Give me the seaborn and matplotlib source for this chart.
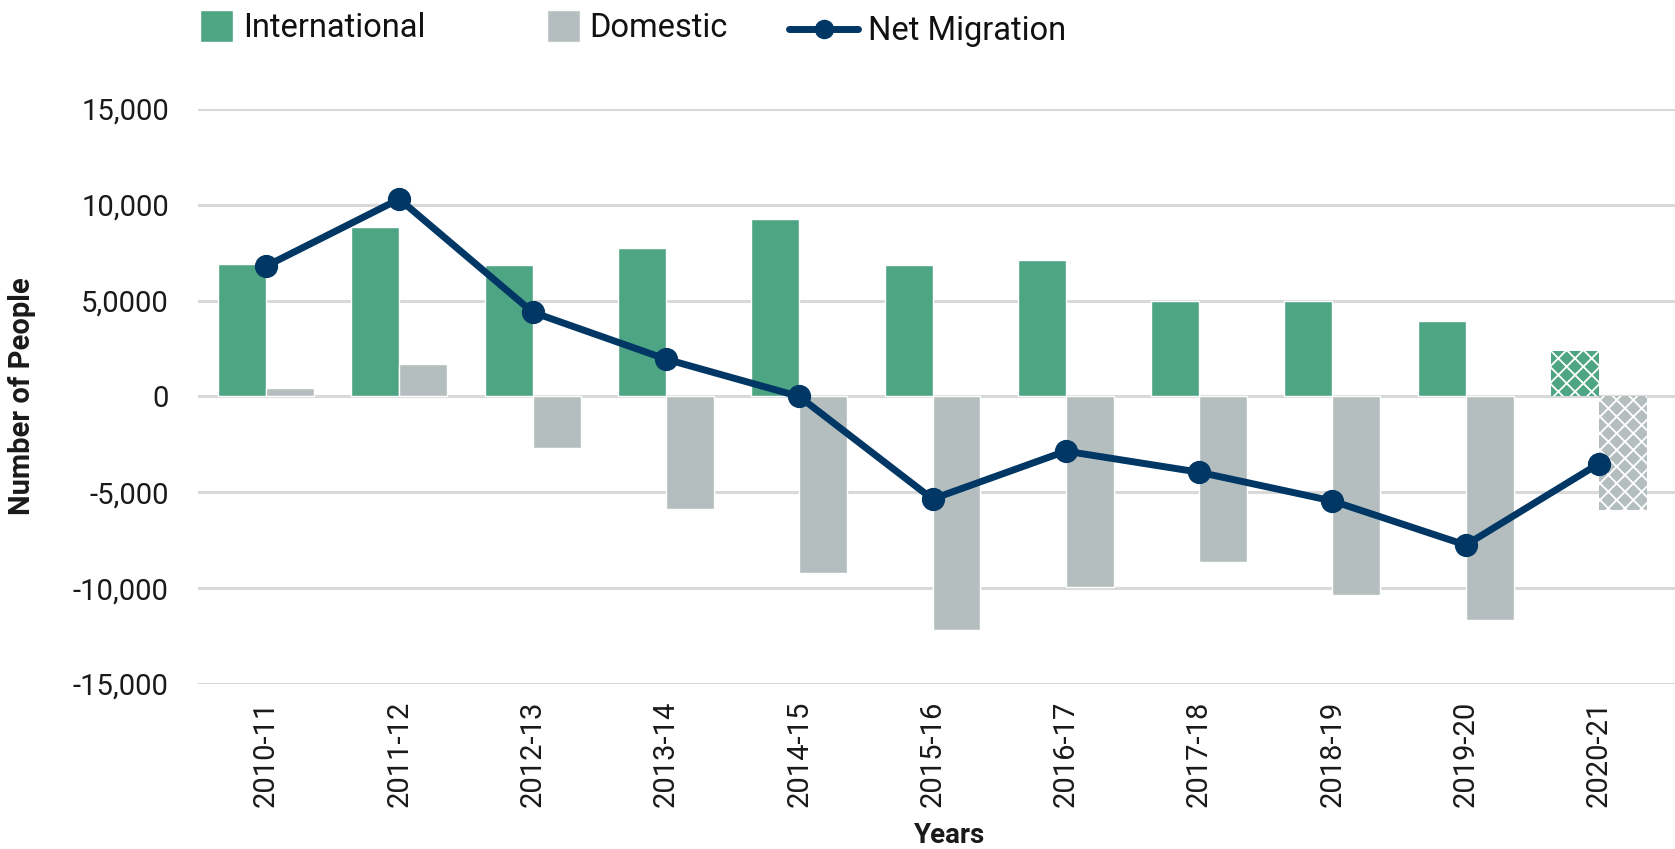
import pandas as pd
import matplotlib.pyplot as plt
import seaborn as sns
import numpy as np
from matplotlib.patches import Patch
from matplotlib.lines import Line2D

# values

years = ['2010-11', '2011-12', '2012-13', '2013-14', '2014-15', '2015-16',
         '2016-17', '2017-18', '2018-19', '2019-20', '2020-21']
international = [6900, 8850, 6850, 7750, 9250, 6850, 7100, 5000, 5000, 3950, 2350]
domestic = [450, 1700, -2700, -5850, -9200, -12200, -9950, -8650, -10350, -11650, -5900]
net_migration = [6800, 10300, 4400, 1950, 0, -5350, -2850, -3950, -5450, -7750, -3500]

y_ticks = [-15000, -10000, -5000, 0, 5000, 10000, 15000]
y_tick_labels = ['-15,000', '-10,000', '-5,000', '0', '5,0000', '10,000', '15,000']

green = '#4DA584'
grey = '#B5BEBE'
navy = '#003764'
text_col = '#1A1A1A'

sns.set_style("white")
plt.rcParams['font.family'] = ['Roboto', 'DejaVu Sans']
plt.rcParams['hatch.linewidth'] = 1.3

df = pd.DataFrame({
    'Year': years * 2,
    'Value': international + domestic,
    'Type': ['International'] * len(years) + ['Domestic'] * len(years),
})

fig = plt.figure(figsize=(16.75, 8.49), dpi=100)
ax = fig.add_axes([198 / 1675, 1 - 684 / 849, 1 - 198 / 1675, (684 - 109) / 849])

sns.barplot(data=df, x='Year', y='Value', hue='Type', order=years,
            hue_order=['International', 'Domestic'],
            palette=[green, grey], width=0.72, saturation=1, legend=False,
            zorder=2, ax=ax)

# projected last year is hatched
for cont in ax.containers:
    bar = cont[-1]
    bar.set_hatch('xx')
    bar.set_edgecolor('white')
    bar.set_linewidth(0)

sns.pointplot(x=years, y=net_migration, order=years, color=navy, markers='o',
              linestyles='-', linewidth=5, markersize=13, zorder=4, ax=ax)

ax.set_ylim(-15000, 15000)
ax.set_xlim(-0.51, 10.57)
ax.set_yticks(y_ticks)
ax.set_yticklabels(y_tick_labels)
ax.yaxis.grid(True, color='#D9D9D9', linewidth=2.2, zorder=0)
ax.set_axisbelow(True)
for s in ax.spines.values():
    s.set_visible(False)
ax.tick_params(axis='y', length=0, pad=21, labelsize=21, labelcolor=text_col)
ax.tick_params(axis='x', length=0, pad=12, labelsize=21, labelcolor=text_col, rotation=90)

ax.set_xlabel('Years', fontsize=20, fontweight='bold', color=text_col)
ax.set_ylabel('Number of People', fontsize=21, fontweight='bold', color=text_col)
ax.xaxis.set_label_coords((950 - 198) / (1675 - 198), (684 - 822) / (684 - 109))
ax.yaxis.set_label_coords((36 - 198) / (1675 - 198), 0.5)

# legend entries sit at uneven gaps, so three separate legends
leg_kw = dict(frameon=False, fontsize=23.5, borderpad=0, handletextpad=0.3,
              loc='center left', labelcolor='#111111')
fig.legend(handles=[Patch(facecolor=green)], labels=['International'],
           bbox_to_anchor=(184 / 1675, 1 - 27 / 849), handlelength=1.0, handleheight=1.15, **leg_kw)
fig.legend(handles=[Patch(facecolor=grey)], labels=['Domestic'],
           bbox_to_anchor=(531 / 1675, 1 - 27 / 849), handlelength=1.0, handleheight=1.15, **leg_kw)
fig.legend(handles=[Line2D([], [], color=navy, lw=5, marker='o', markersize=13)],
           labels=['Net Migration'],
           bbox_to_anchor=(773 / 1675, 1 - 31 / 849), handlelength=2.1, **leg_kw)

fig.savefig('out.png', dpi=100)
